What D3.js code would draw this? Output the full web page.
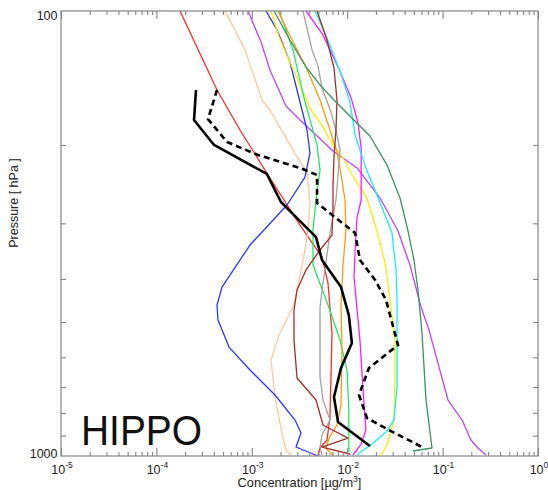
<!DOCTYPE html>
<html><head><meta charset="utf-8">
<script src="https://cdn.jsdelivr.net/npm/d3@7"></script>
<style>html,body{margin:0;padding:0;background:#fff;} svg{display:block;}</style>
</head><body>
<svg id="chart" width="548" height="490"></svg>
<script>
// ---- data: [pressure hPa, concentration µg/m3] ----
const red = [[100,1.77e-4],[150.5,4.32e-4],[185.1,7.52e-4],[237.3,1.55e-3],[302.7,3.20e-3],[357.1,5.44e-3],[408.6,6.29e-3],[529.3,6.93e-3],[817.4,6.60e-3],[920.7,6.14e-3],[959.5,5.19e-3],[994.9,4.94e-3]];
const peach = [[100,5.24e-4],[122.3,8.49e-4],[158.5,1.28e-3],[166.9,1.55e-3],[212.8,2.98e-3],[230.0,3.79e-3],[270.1,4.07e-3],[310.6,3.88e-3],[344.4,3.61e-3],[457.8,2.77e-3],[534.9,1.93e-3],[608.5,1.59e-3],[737.0,1.75e-3],[887.9,2.07e-3],[969.4,2.28e-3],[994.9,2.58e-3]];
const purple = [[100,9.13e-4],[117.4,1.25e-3],[135.7,1.55e-3],[163.5,2.28e-3],[175.8,3.20e-3],[206.4,7.10e-3],[225.3,1.27e-2],[263.2,2.21e-2],[312.2,3.41e-2],[372.3,4.55e-2],[462.6,5.94e-2],[521.2,7.20e-2],[748.5,1.14e-1],[830.2,1.60e-1],[920.7,1.98e-1],[959.5,2.35e-1],[994.9,2.85e-1]];
const blue = [[100,1.41e-3],[110.3,1.84e-3],[130.2,2.51e-3],[166.9,3.36e-3],[185.1,3.79e-3],[208.5,4.07e-3],[236.1,3.61e-3],[272.9,2.34e-3],[335.7,9.57e-4],[417.2,4.87e-4],[457.8,4.32e-4],[494.9,4.42e-4],[569.2,5.77e-4],[640.8,9.57e-4],[729.4,1.75e-3],[830.2,2.84e-3],[887.9,3.28e-3],[954.6,2.91e-3],[989.7,4.38e-3],[1000,4.94e-3]];
const yellow = [[100,1.59e-3],[114.4,1.93e-3],[130.2,2.51e-3],[150.5,3.36e-3],[165.2,4.07e-3],[182.3,5.58e-3],[200,7.10e-3],[214.0,9.04e-3],[233.6,1.12e-2],[263.2,1.61e-2],[312.2,2.05e-2],[368.4,2.49e-2],[446.1,2.81e-2],[548.9,3.17e-2],[674.9,3.17e-2],[830.2,3.09e-2],[944.8,2.61e-2],[994.9,2.26e-2]];
const green = [[100,1.93e-3],[122.3,2.70e-3],[156.9,3.53e-3],[200,4.83e-3],[227.6,5.19e-3],[265.9,4.71e-3],[310.6,4.38e-3],[372.3,4.38e-3],[450.8,6.14e-3],[548.9,8.41e-3],[640.8,9.95e-3],[788.2,1.04e-2],[979.5,1.04e-2]];
const orange = [[100,1.88e-3],[116.2,2.64e-3],[133.6,3.70e-3],[158.5,5.19e-3],[185.1,6.60e-3],[207.4,7.82e-3],[239.8,8.82e-3],[265.9,9.48e-3],[310.6,9.71e-3],[372.3,9.04e-3],[457.8,8.61e-3],[578.1,8.82e-3],[768.3,8.61e-3],[851.9,7.82e-3],[911.3,6.45e-3],[959.5,6.00e-3],[994.9,6.93e-3]];
const gray = [[100,3.44e-3],[122.3,4.28e-3],[132.9,4.94e-3],[148.9,5.44e-3],[168.7,6.76e-3],[189.9,7.82e-3],[205.3,8.41e-3],[233.6,8.01e-3],[265.9,7.63e-3],[315.5,6.60e-3],[408.6,5.58e-3],[462.6,5.19e-3],[529.3,5.19e-3],[664.5,5.19e-3],[748.5,5.58e-3],[830.2,6.60e-3],[897.2,5.44e-3],[954.6,5.19e-3],[994.9,5.44e-3]];
const magenta = [[100,3.70e-3],[113.2,5.58e-3],[135.0,8.20e-3],[156.9,1.10e-2],[178.5,1.30e-2],[203.2,1.40e-2],[265.9,1.40e-2],[290.4,1.27e-2],[344.4,1.21e-2],[396.1,1.18e-2],[469.9,1.27e-2],[548.9,1.36e-2],[699.8,1.46e-2],[874.3,1.57e-2],[939.9,1.40e-2],[994.9,1.15e-2]];
const cyan = [[100,4.60e-3],[115.0,6.14e-3],[138.5,8.61e-3],[160.1,1.07e-2],[189.9,1.21e-2],[225.3,1.57e-2],[259.1,2.05e-2],[287.4,2.49e-2],[315.5,2.95e-2],[381.9,3.25e-2],[446.1,3.33e-2],[548.9,3.33e-2],[699.8,3.33e-2],[830.2,3.09e-2],[883.4,2.55e-2],[939.9,1.82e-2],[974.4,1.43e-2],[994.9,1.27e-2]];
const brown = [[100,4.83e-3],[116.2,6.14e-3],[134.3,7.27e-3],[158.5,7.82e-3],[185.1,7.63e-3],[212.8,7.27e-3],[246.0,7.10e-3],[277.2,7.10e-3],[318.8,6.93e-3],[344.4,5.19e-3],[381.9,3.70e-3],[423.6,2.98e-3],[469.9,2.77e-3],[548.9,2.77e-3],[667.9,2.98e-3],[748.5,4.71e-3],[851.9,5.58e-3],[911.3,1.02e-2],[954.6,5.44e-3],[989.7,1.07e-2]];
const darkGreen = [[100,1.71e-3],[116.2,2.51e-3],[133.6,3.70e-3],[146.6,5.19e-3],[158.5,7.27e-3],[174.0,1.12e-2],[190.9,1.73e-2],[221.8,2.61e-2],[263.2,3.58e-2],[312.2,4.34e-2],[362.7,5.01e-2],[423.6,5.52e-2],[529.3,6.08e-2],[748.5,6.70e-2],[920.7,7.56e-2],[959.5,7.74e-2],[974.4,4.89e-2]];
const hippoMedian = [[150.5,2.60e-4],[175.8,2.48e-4],[200,4.02e-4],[232.4,1.44e-3],[268.7,2.02e-3],[296.5,3.20e-3],[322.1,4.71e-3],[362.7,5.44e-3],[417.2,8.61e-3],[482.3,1.04e-2],[557.5,1.12e-2],[634.2,8.61e-3],[737.0,7.27e-3],[838.8,8.01e-3],[949.7,1.73e-2]];
const hippoMean = [[150.5,4.32e-4],[174.9,3.47e-4],[197.0,5.50e-4],[210.7,1.16e-3],[225.3,3.20e-3],[233.6,4.83e-3],[270.1,4.83e-3],[315.5,1.21e-2],[362.7,1.36e-2],[402.3,1.96e-2],[446.1,2.55e-2],[563.3,3.41e-2],[634.2,1.69e-2],[729.4,1.33e-2],[821.6,1.61e-2],[874.3,2.74e-2],[959.5,6.38e-2]];

const xMajorTicks = [1e-5,1e-4,1e-3,1e-2,1e-1,1];
const xTickExponents = ["-5","-4","-3","-2","-1","0"];
const yMajorTicks = [100,1000];
const yTickLabels = ["100","1000"];
const yMinorTicks = [200,300,400,500,600,700,800,900];
const xTitle = "Concentration [µg/m";
const yTitle = "Pressure [ hPa ]";
const panelLabel = "HIPPO";

// ---- styles ----
const seriesList = [
  {data: red, color: "#ff2b2b"},
  {data: peach, color: "#ffc89a"},
  {data: purple, color: "#bf45ff"},
  {data: blue, color: "#2b35ff"},
  {data: yellow, color: "#ffec00"},
  {data: green, color: "#22e868"},
  {data: orange, color: "#ff9a10"},
  {data: gray, color: "#a3a3a3"},
  {data: magenta, color: "#ff1cff"},
  {data: cyan, color: "#10f0ff"},
  {data: brown, color: "#a3302a"},
  {data: darkGreen, color: "#3b9263"}
];

const L = 61, R = 538, T = 11, B = 456;
const svg = d3.select("#chart");
const x = d3.scaleLog().domain([1e-5, 1]).range([L, R]);
const y = d3.scaleLog().domain([100, 1000]).range([T, B]);
const axisColor = "#858585";
const font = "'Liberation Sans', Arial, Helvetica, sans-serif";

svg.append("defs").append("clipPath").attr("id","clip")
  .append("rect").attr("x",L).attr("y",T).attr("width",R-L).attr("height",B-T);

const line = d3.line().x(d => x(d[1])).y(d => y(d[0]));
const g = svg.append("g").attr("clip-path","url(#clip)");
seriesList.forEach(s => {
  g.append("path").attr("d", line(s.data)).attr("fill","none")
    .attr("stroke", s.color).attr("stroke-width", 1.3).attr("stroke-linejoin","round");
});
g.append("path").attr("d", line(hippoMean)).attr("fill","none")
  .attr("stroke","#000").attr("stroke-width",2.6).attr("stroke-dasharray","6,4");
g.append("path").attr("d", line(hippoMedian)).attr("fill","none")
  .attr("stroke","#000").attr("stroke-width",2.6).attr("stroke-linejoin","round");

// frame
svg.append("rect").attr("x",L).attr("y",T).attr("width",R-L).attr("height",B-T)
  .attr("fill","none").attr("stroke",axisColor).attr("stroke-width",1.2);

// x axes (bottom & top), ticks inward
const xMinor = [];
for (let k = -5; k < 0; k++) for (let m = 2; m <= 9; m++) xMinor.push(m * Math.pow(10, k));
const bottomAxis = d3.axisBottom(x).tickValues(xMinor).tickSizeInner(-4).tickSizeOuter(0).tickFormat("");
const bottomMajor = d3.axisBottom(x).tickValues(xMajorTicks).tickSizeInner(-8).tickSizeOuter(0).tickFormat("");
const topAxis = d3.axisTop(x).tickValues(xMinor).tickSizeInner(-4).tickSizeOuter(0).tickFormat("");
const topMajor = d3.axisTop(x).tickValues(xMajorTicks).tickSizeInner(-8).tickSizeOuter(0).tickFormat("");
const leftMinor = d3.axisLeft(y).tickValues(yMinorTicks).tickSizeInner(-5).tickSizeOuter(0).tickFormat("");
const rightMinor = d3.axisRight(y).tickValues(yMinorTicks).tickSizeInner(-5).tickSizeOuter(0).tickFormat("");
[[bottomAxis,`translate(0,${B})`],[bottomMajor,`translate(0,${B})`],[topAxis,`translate(0,${T})`],[topMajor,`translate(0,${T})`],
 [leftMinor,`translate(${L},0)`],[rightMinor,`translate(${R},0)`]].forEach(([ax,tr]) => {
  const a = svg.append("g").attr("transform",tr).call(ax);
  a.select(".domain").remove();
  a.selectAll("line").attr("stroke",axisColor).attr("stroke-width",1.1);
});

// x tick labels
xMajorTicks.forEach((v,i) => {
  const t = svg.append("text").attr("x", x(v) + 1).attr("y", 473.5)
    .attr("text-anchor","middle").attr("font-family",font).attr("font-size",12.5).attr("fill","#222");
  t.append("tspan").text("10");
  t.append("tspan").attr("dy",-5.5).attr("font-size",8.5).text(xTickExponents[i]);
});
// y tick labels
yMajorTicks.forEach((v,i) => {
  svg.append("text").attr("x", L - 3.5).attr("y", y(v) + (i === 0 ? 8.5 : 1.5))
    .attr("text-anchor","end").attr("font-family",font).attr("font-size",12.5).attr("fill","#222")
    .text(yTickLabels[i]);
});

// axis titles
const xt = svg.append("text").attr("x", (L+R)/2).attr("y", 487).attr("text-anchor","middle")
  .attr("font-family",font).attr("font-size",12.8).attr("fill","#222");
xt.append("tspan").text(xTitle);
xt.append("tspan").attr("dy",-5).attr("font-size",8.5).text("3");
xt.append("tspan").attr("dy",5).text("]");

svg.append("text").attr("transform",`translate(18,${203}) rotate(-90)`).attr("text-anchor","middle")
  .attr("font-family",font).attr("font-size",12.5).attr("fill","#222").text(yTitle);

// panel label
svg.append("text").attr("x",81).attr("y",445).attr("font-family",font).attr("font-size",42)
  .attr("textLength",121).attr("lengthAdjust","spacingAndGlyphs").attr("fill","#111").text(panelLabel);
</script>
</body></html>
